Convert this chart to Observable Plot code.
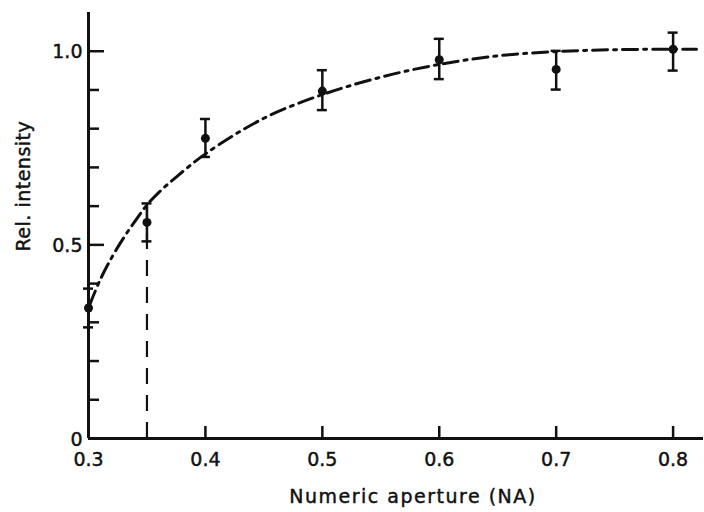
<!DOCTYPE html>
<html><head><meta charset="utf-8">
<script src="https://cdn.jsdelivr.net/npm/d3@7"></script>
<script src="https://cdn.jsdelivr.net/npm/@observablehq/plot@0.6"></script>
<style>body{margin:0;background:#fff} #chart{position:absolute;left:0;top:0}</style>
</head><body><div id="chart"></div>
<script>
// Measured points
const na = [0.3, 0.35, 0.4, 0.5, 0.6, 0.7, 0.8];
const intensity = [0.337, 0.558, 0.775, 0.897, 0.978, 0.953, 1.005];
const errLo = [0.287, 0.509, 0.727, 0.848, 0.928, 0.901, 0.950];
const errHi = [0.387, 0.607, 0.825, 0.951, 1.032, 1.001, 1.048];
// Fitted (dash-dot) curve
const fitX = [0.301, 0.31, 0.32, 0.33, 0.34, 0.35, 0.36, 0.375, 0.4, 0.45, 0.5, 0.55, 0.6, 0.65, 0.7, 0.75, 0.8, 0.82];
const fitY = [0.345, 0.41, 0.468, 0.518, 0.562, 0.603, 0.635, 0.675, 0.735, 0.827, 0.888, 0.933, 0.966, 0.988, 0.999, 1.004, 1.005, 1.005];
// Cut-off marker
const cutX = [0.35];
const cutTop = [0.603];
// Ticks
const xTicks = [0.4, 0.5, 0.6, 0.7, 0.8];
const xLabelTicks = [0.3, 0.4, 0.5, 0.6, 0.7, 0.8];
const xLabels = ["0.3", "0.4", "0.5", "0.6", "0.7", "0.8"];
const yMinorTicks = [0.1, 0.2, 0.3, 0.4, 0.6, 0.7, 0.8, 0.9];
const yMajorTicks = [0.5, 1.0];
const yLabelTicks = [0, 0.5, 1.0];
const yLabels = ["0", "0.5", "1.0"];
const xTitle = "Numeric aperture (NA)";
const yTitle = "Rel. intensity";

const points = na.map((x, i) => ({x, y: intensity[i], lo: errLo[i], hi: errHi[i]}));
const fit = fitX.map((x, i) => ({x, y: fitY[i]}));
const cut = cutX.map((x, i) => ({x, top: cutTop[i]}));
const ink = "#111";
const txt = {fill: ink, stroke: ink, strokeWidth: 0.45, fontSize: 19};

const chart = Plot.plot({
  width: 704, height: 512,
  marginLeft: 88, marginRight: 1, marginTop: 12, marginBottom: 74,
  x: {domain: [0.3, 0.826], axis: null},
  y: {domain: [0, 1.1], axis: null},
  style: {fontFamily: "DejaVu Sans", fontSize: "19px", color: ink, background: "white"},
  marks: [
    // cut-off dashed line
    Plot.ruleX(cut, {x: "x", y1: 0, y2: "top", stroke: ink, strokeWidth: 2.2, strokeDasharray: "16,11"}),
    // fitted curve
    Plot.line(fit, {x: "x", y: "y", curve: "catmull-rom", stroke: ink, strokeWidth: 3, strokeDasharray: "15,6,3,6"}),
    // error bars
    Plot.ruleX(points, {x: "x", y1: "lo", y2: "hi", stroke: ink, strokeWidth: 2.5}),
    Plot.ruleY(points, {y: "lo", x1: "x", x2: "x", insetLeft: -5, insetRight: -5, stroke: ink, strokeWidth: 2.5}),
    Plot.ruleY(points, {y: "hi", x1: "x", x2: "x", insetLeft: -5, insetRight: -5, stroke: ink, strokeWidth: 2.5}),
    Plot.dot(points, {x: "x", y: "y", r: 4.5, fill: ink, stroke: null}),
    // axes lines
    Plot.ruleX([0.3], {stroke: ink, strokeWidth: 3}),
    Plot.ruleY([0], {stroke: ink, strokeWidth: 3}),
    // inward ticks
    Plot.ruleX(xTicks, {x: d => d, y1: 0, y2: 0, insetBottom: 12, stroke: ink, strokeWidth: 2.5}),
    Plot.ruleY(yMinorTicks, {y: d => d, x1: 0.3, x2: 0.3, insetRight: -11, stroke: ink, strokeWidth: 2.5}),
    Plot.ruleY(yMajorTicks, {y: d => d, x1: 0.3, x2: 0.3, insetRight: -16, stroke: ink, strokeWidth: 2.5}),
    // tick labels
    Plot.text(xLabelTicks, {x: d => d, y: 0, text: (d, i) => xLabels[i], dy: 21, ...txt}),
    Plot.text(yLabelTicks, {x: 0.3, y: d => d, text: (d, i) => yLabels[i], textAnchor: "end", dx: -6, dy: 1, ...txt}),
    // titles
    Plot.text([xTitle], {frameAnchor: "bottom", text: d => d, dy: 64, dx: 17, ...txt}),
    Plot.text([yTitle], {frameAnchor: "left", text: d => d, rotate: -90, dx: -65, dy: 26, ...txt})
  ]
});
document.getElementById("chart").appendChild(chart);
chart.querySelectorAll("text").forEach(t => {
  if (t.textContent === xTitle) t.style.letterSpacing = "1.5px";
  if (t.textContent === yTitle) t.style.letterSpacing = "0.5px";
});
</script></body></html>
